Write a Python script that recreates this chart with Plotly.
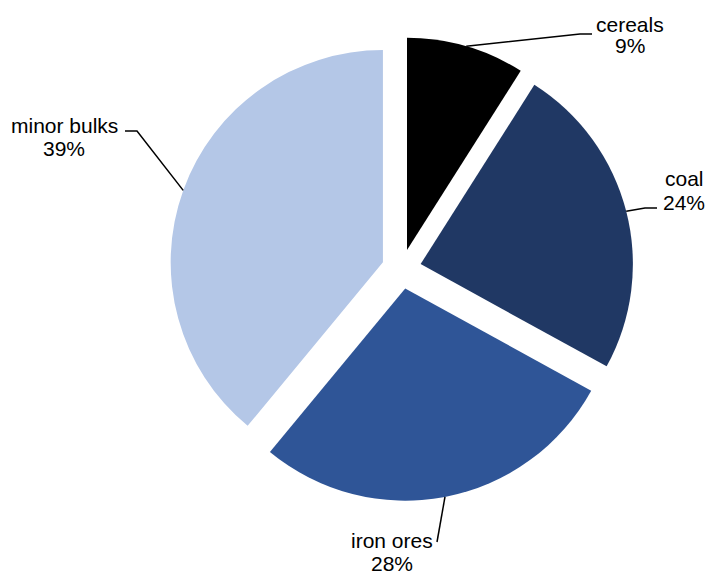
import math
import plotly.graph_objects as go

# ---- data ----
categories = ["cereals", "coal", "iron ores", "minor bulks"]
shares = [9, 24, 28, 39]
pct_labels = ["9%", "24%", "28%", "39%"]

# ---- styles / layout ----
colors = ["#000000", "#203864", "#2F5597", "#B4C7E7"]
W, H = 706, 574
M_T, M_B = 37, 73
PULL = 0.093
CX = 401.5
FONT = dict(family="Liberation Sans, Arial, sans-serif", size=21, color="#000000")

# label layout (pixel positions): elbow, end of leader, name centre, pct centre
label_layout = {
    "cereals":     dict(elbow=(580, 34), end=(592, 34), name=(630, 24), pct=(630, 46)),
    "coal":        dict(elbow=(645, 208), end=(657, 208), name=(684, 178), pct=(684, 202)),
    "iron ores":   dict(elbow=(437, 542), end=(437, 542), name=(392, 540), pct=(392, 563)),
    "minor bulks": dict(elbow=(137, 131), end=(125, 131), name=(64, 125), pct=(64, 148)),
}

plot_h = H - M_T - M_B
CY = M_T + plot_h / 2
R = plot_h / 2 / (1 + PULL)
dom_c = CX / W
dom_half = min(dom_c, 1 - dom_c) - 0.001


def px(x):
    return x / W


def py(y):
    return (H - M_B - y) / plot_h


fig = go.Figure(
    go.Pie(
        labels=categories,
        values=shares,
        sort=False,
        direction="clockwise",
        rotation=0,
        pull=[PULL] * len(shares),
        marker=dict(colors=colors, line=dict(width=0)),
        textinfo="none",
        showlegend=False,
        domain=dict(x=[dom_c - dom_half, dom_c + dom_half], y=[0, 1]),
    )
)

total = sum(shares)
cum = 0
shapes = []
annotations = []
for cat, val, pct in zip(categories, shares, pct_labels):
    theta = math.radians((cum + val / 2) / total * 360)
    cum += val
    tip = (CX + R * (1 + PULL) * math.sin(theta), CY - R * (1 + PULL) * math.cos(theta))
    lay = label_layout[cat]
    e, n = lay["elbow"], lay["end"]
    path = f"M {px(tip[0])} {py(tip[1])} L {px(e[0])} {py(e[1])} L {px(n[0])} {py(n[1])}"
    shapes.append(dict(type="path", path=path, xref="paper", yref="paper",
                       line=dict(color="#000000", width=1.5)))
    for key, txt in (("name", cat), ("pct", pct)):
        x, y = lay[key]
        annotations.append(dict(text=txt, x=px(x), y=py(y), xref="paper", yref="paper",
                                xanchor="center", yanchor="middle", showarrow=False,
                                font=FONT))

fig.update_layout(
    width=W, height=H,
    margin=dict(l=0, r=0, t=M_T, b=M_B),
    paper_bgcolor="white", plot_bgcolor="white",
    shapes=shapes, annotations=annotations,
    font=FONT,
)

fig.write_html("out.html", config={"displayModeBar": False},
               post_script="document.body.style.margin='0';document.body.style.overflow='hidden';")
